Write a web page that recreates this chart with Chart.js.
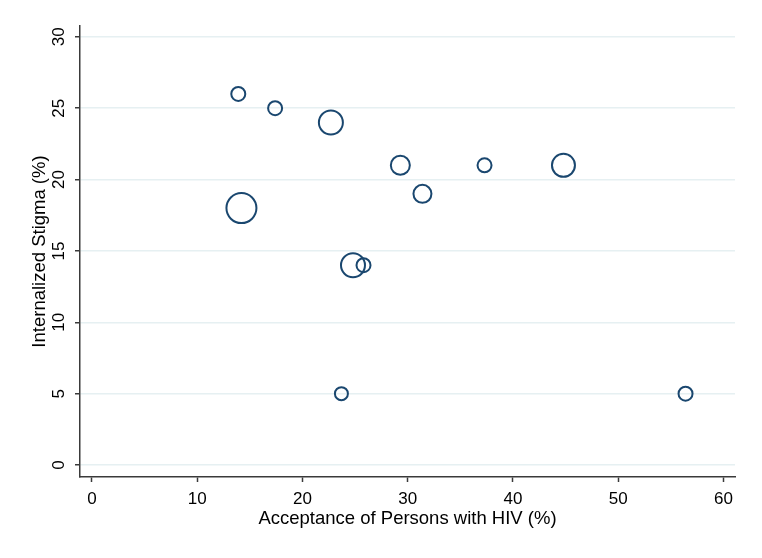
<!DOCTYPE html>
<html>
<head>
<meta charset="utf-8">
<script src="https://cdn.jsdelivr.net/npm/chart.js@4"></script>
<style>
  html, body { margin: 0; padding: 0; background: #ffffff; }
  #wrap { width: 762px; height: 558px; }
</style>
</head>
<body>
<div id="wrap"><canvas id="c" width="762" height="558"></canvas></div>
<script>
// Acceptance of Persons with HIV (%)
const acceptance = [13.9, 17.4, 22.7, 14.2, 29.3, 31.4, 37.3, 44.8, 24.8, 25.8, 23.7, 56.4];
// Internalized Stigma (%)
const stigma     = [26, 25, 24, 18, 21, 19, 21, 21, 14, 14, 5, 5];
// bubble weight (drawn radius)
const weight     = [7, 7, 12, 15, 9.5, 9, 7, 11.5, 12, 7, 6.5, 7];

const xTicks = [0, 10, 20, 30, 40, 50, 60];
const yTicks = [0, 5, 10, 15, 20, 25, 30];

const points = acceptance.map((v, i) => ({ x: v, y: stigma[i], r: weight[i] }));

const FONT = "'Liberation Sans', Arial, Helvetica, sans-serif";
const AXIS = '#3a3a3a';
const GRID = '#e6f0f2';

new Chart(document.getElementById('c'), {
  type: 'bubble',
  data: {
    datasets: [{
      data: points,
      borderColor: '#1a476f',
      backgroundColor: 'rgba(0,0,0,0)',
      borderWidth: 2,
      hoverBorderWidth: 2,
      hoverRadius: 0
    }]
  },
  options: {
    responsive: false,
    animation: false,
    events: [],
    layout: { padding: { left: 0, right: 27, top: 26, bottom: 0 } },
    plugins: { legend: { display: false }, tooltip: { enabled: false } },
    scales: {
      x: {
        type: 'linear',
        min: -1.14,
        max: 61.1,
        afterFit: s => { s.height = 81; },
        afterBuildTicks: s => { s.ticks = xTicks.map(v => ({ value: v })); },
        border: { color: AXIS, width: 1.5 },
        grid: { drawOnChartArea: false, drawTicks: true, tickLength: 5, tickColor: AXIS, tickWidth: 1.5 },
        ticks: { color: '#000', font: { family: FONT, size: 17 }, padding: 7, maxRotation: 0, autoSkip: false },
        title: { display: true, text: 'Acceptance of Persons with HIV (%)', color: '#000',
                 font: { family: FONT, size: 18.5 }, padding: { top: 0, bottom: 28 } }
      },
      y: {
        type: 'linear',
        min: -0.84,
        max: 30.76,
        afterFit: s => { s.width = 80; },
        afterBuildTicks: s => { s.ticks = yTicks.map(v => ({ value: v })); },
        border: { color: AXIS, width: 1.5 },
        grid: { color: GRID, lineWidth: 1.5, drawTicks: true, tickLength: 5, tickColor: AXIS, tickWidth: 1.5 },
        ticks: { color: '#000', font: { family: FONT, size: 17 }, padding: 6, minRotation: 90, maxRotation: 90,
                 crossAlign: 'center', autoSkip: false },
        title: { display: true, text: 'Internalized Stigma (%)', color: '#000',
                 font: { family: FONT, size: 18.5 }, padding: { top: 29, bottom: 0 } }
      }
    }
  }
});
</script>
</body>
</html>
